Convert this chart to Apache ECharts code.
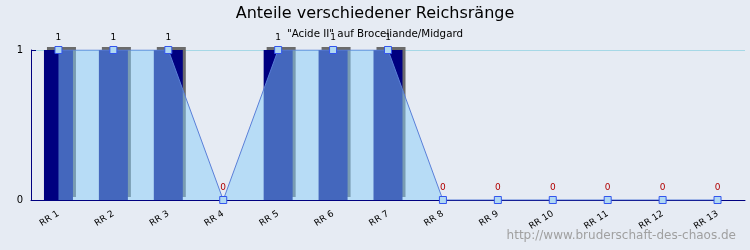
<!DOCTYPE html>
<html>
<head>
<meta charset="utf-8">
<script src="https://cdn.jsdelivr.net/npm/echarts@6/dist/echarts.min.js"></script>
<style>html,body{margin:0;padding:0;background:#e6ebf3;}#c{width:750px;height:250px;}</style>
</head>
<body>
<div id="c"></div>
<script>
var categories = ['RR 1','RR 2','RR 3','RR 4','RR 5','RR 6','RR 7','RR 8','RR 9','RR 10','RR 11','RR 12','RR 13'];
var barValues = [1,1,1,0,1,1,1,0,0,0,0,0,0];
var lineValues = [1,1,1,0,1,1,1,0,0,0,0,0,0];
var yTicks = [0,1];

var chart = echarts.init(document.getElementById('c'), null, {renderer:'canvas'});
var font = 'DejaVu Sans';
var lineData = lineValues.map(function(v){
  return {value: v, label: {color: v === 0 ? '#b00000' : '#000000'}};
});
chart.setOption({
  backgroundColor: '#e6ebf3',
  animation: false,
  title: [
    {text: 'Anteile verschiedener Reichsränge', left: 'center', top: 1,
     textStyle: {fontFamily: font, fontSize: 16, fontWeight: 'normal', color: '#000'}},
    {text: '"Acide II" auf Broceliande/Midgard', left: 'center', top: 24,
     textStyle: {fontFamily: font, fontSize: 10.3, fontWeight: 'normal', color: '#000'}},
    {text: 'http://www.bruderschaft-des-chaos.de', right: 9, bottom: 3,
     textStyle: {fontFamily: font, fontSize: 12, fontWeight: 'normal', color: '#a0a0a0'}}
  ],
  grid: {left: 31, right: 5, top: 50, bottom: 50},
  xAxis: {
    type: 'category', data: categories, boundaryGap: true,
    axisLine: {lineStyle: {color: '#000080', width: 1}},
    axisTick: {inside: true, length: 5, lineStyle: {color: '#000080'}},
    axisLabel: {rotate: 32, fontFamily: font, fontSize: 9, color: '#000', margin: 13}
  },
  yAxis: {
    type: 'value', min: 0, max: 1, interval: 1,
    axisLine: {show: true, lineStyle: {color: '#000080'}},
    axisTick: {show: true, inside: true, length: 5, lineStyle: {color: '#000080'}},
    axisLabel: {fontFamily: font, fontSize: 10, color: '#000', margin: 8,
      formatter: function(v){ return yTicks.indexOf(v) >= 0 ? String(v) : ''; }},
    splitLine: {show: true, lineStyle: {color: '#a6d8e6', width: 1}}
  },
  series: [
    {
      type: 'bar', data: barValues, barWidth: 29, z: 1,
      itemStyle: {color: '#000080', shadowColor: '#6b6b6b', shadowBlur: 0, shadowOffsetX: 3, shadowOffsetY: -3}
    },
    {
      type: 'line', data: lineData, z: 3,
      symbol: 'rect', symbolSize: 7, showAllSymbol: true,
      lineStyle: {color: '#5a7fd8', width: 1},
      itemStyle: {color: '#b0d8f2', borderColor: '#3355ee', borderWidth: 1},
      areaStyle: {color: 'rgba(135,206,250,0.5)', opacity: 1, origin: 'start'},
      label: {show: true, position: 'top', distance: 4, fontFamily: font, fontSize: 9, formatter: '{c}'},
      emphasis: {disabled: true}
    }
  ]
});
</script>
</body>
</html>
